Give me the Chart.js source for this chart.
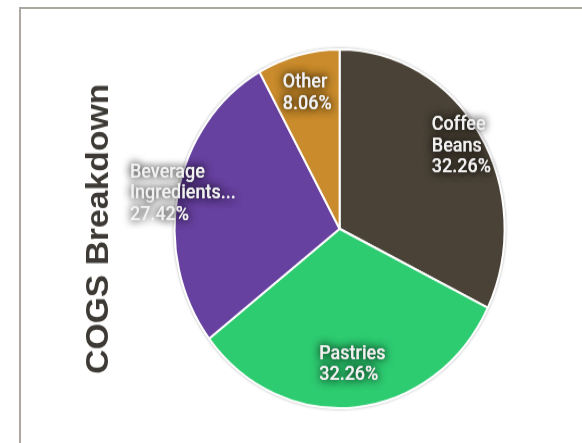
<!DOCTYPE html>
<html>
<head>
<meta charset="utf-8">
<script src="https://cdn.jsdelivr.net/npm/chart.js@4/dist/chart.umd.min.js"></script>
<style>
  html, body { margin: 0; padding: 0; background: #fff; overflow: hidden; width: 582px; height: 443px; }
  #frame { position: absolute; left: 19px; top: 7px; width: 700px; height: 600px; border: 2px solid #aaa8a0; }
  #wrap { position: absolute; left: 0; top: 44px; width: 582px; height: 340px; transform: scaleY(1.087); transform-origin: 0 0; }
</style>
</head>
<body>
<div id="frame"></div>
<div id="wrap"><canvas id="myChart" width="582" height="340"></canvas></div>
<script>
// dados do grafico
const categorias = ['Coffee Beans', 'Pastries', 'Beverage Ingredients', 'Other'];
const rotulos = [['Coffee', 'Beans'], ['Pastries'], ['Beverage', 'Ingredients...'], ['Other']];
const valores = [20, 20, 17, 5];
const cores = ['#4a4236', '#2ecc71', '#6741a0', '#c98b2b'];

// fundo branco com sombra leve em volta da pizza
const sombraPlugin = {
  id: 'sombra',
  beforeDatasetsDraw(chart) {
    const arc = chart.getDatasetMeta(0).data[0];
    const ctx = chart.ctx;
    ctx.save();
    ctx.beginPath();
    ctx.arc(arc.x, arc.y, arc.outerRadius + 1, 0, Math.PI * 2);
    ctx.fillStyle = '#fff';
    ctx.shadowColor = 'rgba(0,0,0,0.35)';
    ctx.shadowBlur = 3;
    ctx.fill();
    ctx.restore();
  }
};

// textos dentro das fatias
const rotulosPlugin = {
  id: 'rotulos',
  afterDatasetsDraw(chart, args, opts) {
    const ctx = chart.ctx;
    const meta = chart.getDatasetMeta(0);
    const total = valores.reduce((a, b) => a + b, 0);
    ctx.save();
    ctx.font = opts.font;
    ctx.textBaseline = 'middle';
    ctx.textAlign = 'left';
    meta.data.forEach((arc, i) => {
      const p = arc.getProps(['x', 'y', 'startAngle', 'endAngle', 'outerRadius'], true);
      const meio = (p.startAngle + p.endAngle) / 2;
      const r = p.outerRadius * opts.raio[i];
      const x = p.x + Math.cos(meio) * r;
      const y = p.y + Math.sin(meio) * r;
      const linhas = rotulos[i].concat([(valores[i] / total * 100).toFixed(2) + '%']);
      const larg = Math.max(...linhas.map(l => ctx.measureText(l).width));
      // duas passadas para a sombra ficar mais escura
      for (let k = 0; k < 2; k++) {
        linhas.forEach((l, j) => {
          const ly = y + (j - (linhas.length - 1) / 2) * opts.alturaLinha;
          ctx.shadowColor = 'rgba(0,0,0,0.7)';
          ctx.shadowBlur = 9;
          ctx.fillStyle = '#f2f2f2';
          ctx.fillText(l, x - larg / 2, ly);
        });
      }
    });
    ctx.restore();
  }
};

let canvas = document.getElementById('myChart');
let ctx = canvas.getContext('2d');

let chart = new Chart(ctx, {
  type: 'pie',
  data: {
    labels: categorias,
    datasets: [{
      data: valores,
      backgroundColor: cores,
      borderColor: '#ffffff',
      borderWidth: 2
    }]
  },
  options: {
    responsive: false,
    animation: false,
    layout: { padding: { left: 0, right: 76, top: 4, bottom: 4 } },
    plugins: {
      legend: { display: false },
      tooltip: { enabled: false },
      title: {
        display: true,
        position: 'left',
        text: 'COGS Breakdown',
        color: '#3d3a35',
        font: { family: '"Liberation Sans", Arial, sans-serif', size: 31, weight: 'bold' },
        padding: { top: 81, bottom: 55 }
      },
      rotulos: {
        font: '500 18px Roboto, "Liberation Sans", Arial, sans-serif',
        alturaLinha: 19.5,
        raio: [0.87, 0.76, 0.97, 0.78]
      }
    }
  },
  plugins: [sombraPlugin, rotulosPlugin]
});
</script>
</body>
</html>
